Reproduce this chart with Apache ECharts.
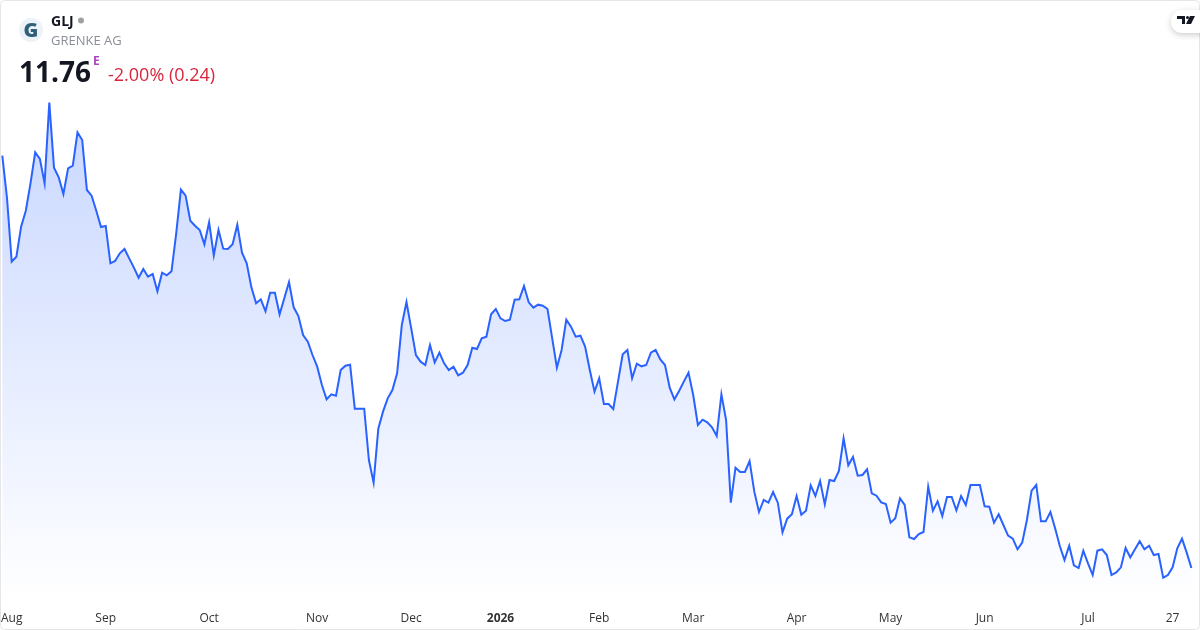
<!DOCTYPE html>
<html><head><meta charset="utf-8">
<style>html,body{margin:0;padding:0;background:#fff}#c{width:1200px;height:630px}</style>
<script src="https://cdn.jsdelivr.net/npm/echarts@6/dist/echarts.min.js"></script>
</head><body><div id="c"></div>
<script>
const prices = [24.13,22.86,20.95,21.10,22.00,22.48,23.30,24.23,24.03,23.30,
25.72,23.77,23.48,22.98,23.75,23.83,24.83,24.60,23.10,22.93,
22.48,21.99,22.02,20.90,20.97,21.20,21.33,21.05,20.77,20.47,
20.73,20.50,20.58,20.06,20.62,20.54,20.66,21.80,23.11,22.93,
22.18,22.03,21.90,21.47,22.13,21.14,21.90,21.34,21.33,21.47,
22.06,21.22,20.90,20.18,19.70,19.82,19.46,20.02,20.02,19.37,
19.85,20.34,19.58,19.32,18.75,18.55,18.15,17.80,17.25,16.82,
16.97,16.93,17.70,17.83,17.86,16.54,16.54,16.54,15.00,14.32,
15.94,16.45,16.85,17.10,17.60,19.05,19.74,18.95,18.15,17.95,
17.85,18.45,17.93,18.22,17.90,17.70,17.80,17.54,17.62,17.85,
18.37,18.33,18.65,18.70,19.37,19.53,19.25,19.17,19.21,19.81,
19.82,20.22,19.73,19.57,19.66,19.63,19.53,18.65,17.77,18.30,
19.21,19.00,18.70,18.73,18.40,17.70,17.05,17.45,16.68,16.68,
16.53,17.35,18.17,18.30,17.45,17.89,17.81,17.85,18.22,18.30,
18.02,17.85,17.17,16.82,17.07,17.35,17.62,16.95,16.05,16.21,
16.13,15.98,15.72,16.97,16.20,13.72,14.77,14.64,14.64,14.97,
14.05,13.44,13.80,13.72,14.04,13.72,12.83,13.24,13.37,13.92,
13.36,13.48,14.24,13.92,14.37,13.67,14.40,14.37,14.67,15.65,
14.84,15.09,14.53,14.55,14.72,14.00,13.93,13.73,13.68,13.12,
13.25,13.85,13.65,12.68,12.63,12.78,12.84,14.20,13.48,13.76,
13.32,13.89,13.89,13.49,13.92,13.65,14.25,14.25,14.25,13.61,
13.60,13.12,13.37,13.05,12.73,12.64,12.32,12.52,13.20,14.08,
14.25,13.16,13.16,13.44,12.95,12.42,12.00,12.43,11.84,11.76,
12.28,11.90,11.55,12.28,12.32,12.15,11.55,11.63,11.78,12.36,
12.08,12.32,12.56,12.32,12.43,12.15,12.18,11.47,11.55,11.78,
12.35,12.64,12.22,11.76];
const tickIndex = [2,22,44,67,87,106,127,147,169,189,209,231,249];
const tickLabels = ['Aug','Sep','Oct','Nov','Dec','2026','Feb','Mar','Apr','May','Jun','Jul','27'];
const boldLabels = ['2026'];

const categories = prices.map((_, i) => {
  const k = tickIndex.indexOf(i);
  return k >= 0 ? tickLabels[k] : String(i);
});
const FONT = '"Open Sans", sans-serif';
const chart = echarts.init(document.getElementById('c'), null, {renderer:'canvas'});
chart.setOption({
  animation:false,
  backgroundColor:'#ffffff',
  grid:{left:2.3,right:8.6,top:0,height:600,containLabel:false,outerBoundsMode:'none'},
  xAxis:{
    type:'category',data:categories,boundaryGap:false,
    axisLine:{show:false},axisTick:{show:false},splitLine:{show:false},
    axisLabel:{
      interval:(i)=>tickIndex.includes(i),
      margin:13,fontFamily:FONT,fontSize:12,color:'#333333',hideOverlap:false,
      formatter:(v)=>boldLabels.includes(v)?'{b|'+v+'}':v,
      rich:{b:{fontFamily:FONT,fontSize:12,fontWeight:'bold',color:'#333333'}}
    }
  },
  yAxis:{type:'value',min:10.8,max:28.8,show:false,splitLine:{show:false}},
  series:[{
    type:'line',data:prices,symbol:'none',smooth:false,silent:true,
    lineStyle:{color:'#2962ff',width:2,join:'miter'},
    itemStyle:{color:'#2962ff'},
    areaStyle:{color:new echarts.graphic.LinearGradient(0,0,0,1,[
      {offset:0,color:'rgba(41,98,255,0.37)'},
      {offset:1,color:'rgba(41,98,255,0)'}])}
  }],
  graphic:[
    {type:'rect',shape:{x:0.5,y:0.5,width:1199,height:629,r:4},style:{fill:'none',stroke:'#e6e6e6',lineWidth:1},z:20},
    {type:'circle',shape:{cx:31,cy:30,r:12},style:{fill:'#edf2f8'},z:20},
    {type:'text',x:31,y:31,style:{text:'G',fontFamily:FONT,fontSize:20,fontWeight:800,fill:'#2f6079',align:'center',verticalAlign:'middle'},z:21},
    {type:'text',x:51,y:22,style:{text:'GLJ',fontFamily:FONT,fontSize:14,fontWeight:'bold',fill:'#131722',align:'left',verticalAlign:'middle'},z:21},
    {type:'circle',shape:{cx:81,cy:20.5,r:3},style:{fill:'#a0a0a0'},z:21},
    {type:'text',x:51,y:41,style:{text:'GRENKE AG',fontFamily:FONT,fontSize:13,fill:'#8a8e97',align:'left',verticalAlign:'middle'},z:21},
    {type:'text',x:19,y:74,style:{text:'11.76',fontFamily:FONT,fontSize:28,fontWeight:'bold',fill:'#131722',align:'left',verticalAlign:'middle'},z:21},
    {type:'text',x:93,y:62,style:{text:'E',fontFamily:FONT,fontSize:12,fontWeight:'bold',fill:'#ab47bc',align:'left',verticalAlign:'middle'},z:21},
    {type:'text',x:108,y:76,style:{text:'-2.00% (0.24)',fontFamily:FONT,fontSize:18,fill:'#d9263c',align:'left',verticalAlign:'middle'},z:21},
    {type:'rect',shape:{x:1171,y:10,width:40,height:23,r:11},style:{fill:'#ffffff',shadowBlur:6,shadowColor:'rgba(0,0,0,0.2)',shadowOffsetY:2},z:22},
    {type:'polygon',shape:{points:[[1177,16],[1185,16],[1185,24],[1182,24],[1182,19],[1177,19]]},style:{fill:'#131722'},z:23},
    {type:'circle',shape:{cx:1187.5,cy:17.5,r:1.5},style:{fill:'#131722'},z:23},
    {type:'polygon',shape:{points:[[1190,16],[1195,16],[1191,24],[1186,24]]},style:{fill:'#131722'},z:23}
  ]
});
</script></body></html>
